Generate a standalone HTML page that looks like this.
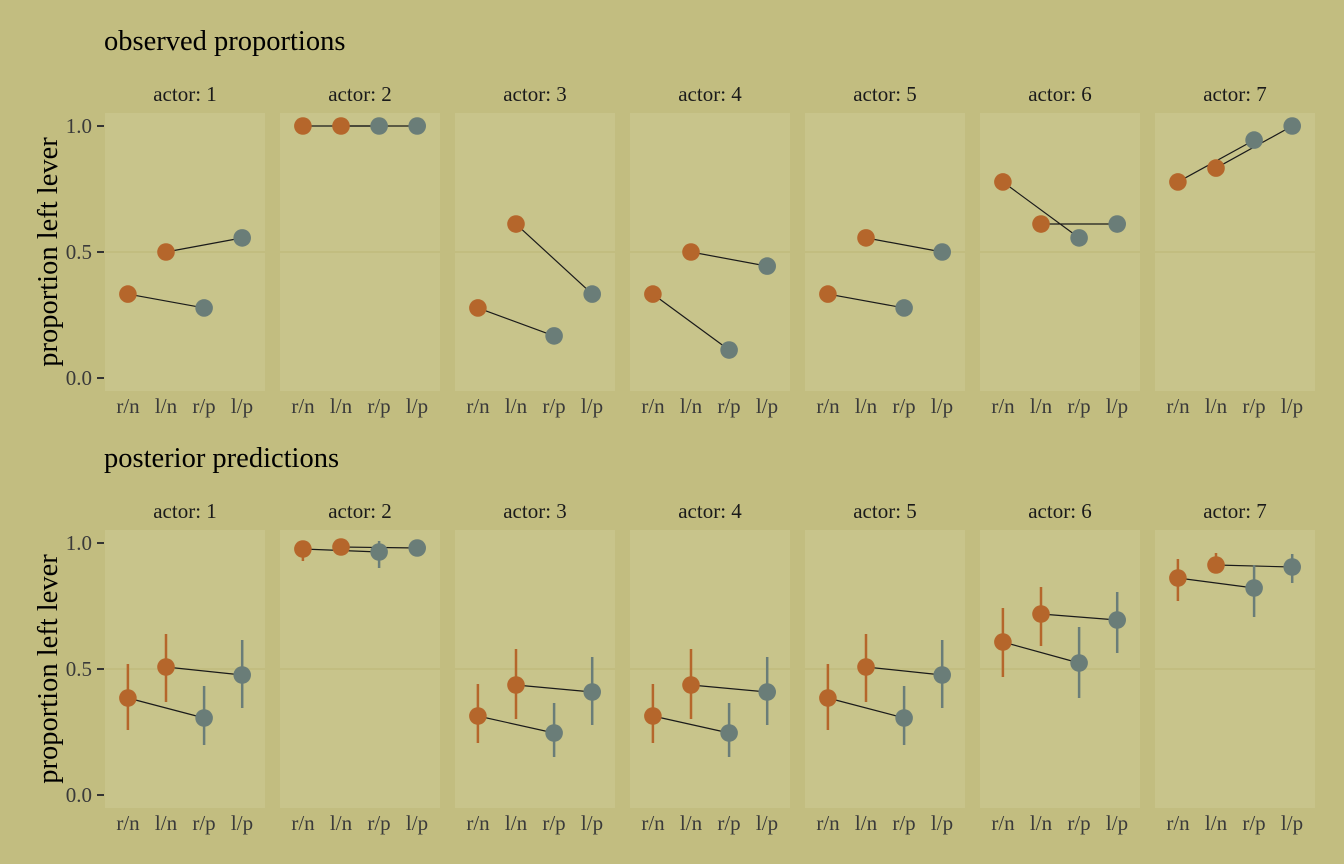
<!DOCTYPE html>
<html><head><meta charset="utf-8"><style>
body{margin:0;background:#C2BD80;}
svg{display:block;font-family:"Liberation Serif",serif;}
.ax{font-size:21px;fill:#3a3a3a;}
.st{font-size:21px;fill:#1a1a1a;text-anchor:middle;}
.tt{font-size:28.5px;fill:#000;}
</style></head><body>
<svg id="s" width="1344" height="864" viewBox="0 0 1344 864">
<rect width="1344" height="864" fill="#C2BD80"/>
<g id="g"></g>
<text class="tt" x="104" y="50">observed proportions</text>
<text class="tt" x="104" y="467">posterior predictions</text>
<text class="tt" transform="translate(57,252) rotate(-90)" text-anchor="middle">proportion left lever</text>
<text class="tt" transform="translate(57,669) rotate(-90)" text-anchor="middle">proportion left lever</text>
<g class="ax" text-anchor="end">
<text x="92" y="133">1.0</text><text x="92" y="259">0.5</text><text x="92" y="385">0.0</text>
<text x="92" y="550">1.0</text><text x="92" y="676">0.5</text><text x="92" y="802">0.0</text>
</g>
<g class="st">
<text x="185" y="101">actor: 1</text><text x="360" y="101">actor: 2</text><text x="535" y="101">actor: 3</text><text x="710" y="101">actor: 4</text><text x="885" y="101">actor: 5</text><text x="1060" y="101">actor: 6</text><text x="1235" y="101">actor: 7</text>
<text x="185" y="518">actor: 1</text><text x="360" y="518">actor: 2</text><text x="535" y="518">actor: 3</text><text x="710" y="518">actor: 4</text><text x="885" y="518">actor: 5</text><text x="1060" y="518">actor: 6</text><text x="1235" y="518">actor: 7</text>
</g>
<g class="ax" text-anchor="middle">
<text x="128" y="413">r/n</text><text x="166" y="413">l/n</text><text x="204" y="413">r/p</text><text x="242" y="413">l/p</text>
<text x="303" y="413">r/n</text><text x="341" y="413">l/n</text><text x="379" y="413">r/p</text><text x="417" y="413">l/p</text>
<text x="478" y="413">r/n</text><text x="516" y="413">l/n</text><text x="554" y="413">r/p</text><text x="592" y="413">l/p</text>
<text x="653" y="413">r/n</text><text x="691" y="413">l/n</text><text x="729" y="413">r/p</text><text x="767" y="413">l/p</text>
<text x="828" y="413">r/n</text><text x="866" y="413">l/n</text><text x="904" y="413">r/p</text><text x="942" y="413">l/p</text>
<text x="1003" y="413">r/n</text><text x="1041" y="413">l/n</text><text x="1079" y="413">r/p</text><text x="1117" y="413">l/p</text>
<text x="1178" y="413">r/n</text><text x="1216" y="413">l/n</text><text x="1254" y="413">r/p</text><text x="1292" y="413">l/p</text>
<text x="128" y="830">r/n</text><text x="166" y="830">l/n</text><text x="204" y="830">r/p</text><text x="242" y="830">l/p</text>
<text x="303" y="830">r/n</text><text x="341" y="830">l/n</text><text x="379" y="830">r/p</text><text x="417" y="830">l/p</text>
<text x="478" y="830">r/n</text><text x="516" y="830">l/n</text><text x="554" y="830">r/p</text><text x="592" y="830">l/p</text>
<text x="653" y="830">r/n</text><text x="691" y="830">l/n</text><text x="729" y="830">r/p</text><text x="767" y="830">l/p</text>
<text x="828" y="830">r/n</text><text x="866" y="830">l/n</text><text x="904" y="830">r/p</text><text x="942" y="830">l/p</text>
<text x="1003" y="830">r/n</text><text x="1041" y="830">l/n</text><text x="1079" y="830">r/p</text><text x="1117" y="830">l/p</text>
<text x="1178" y="830">r/n</text><text x="1216" y="830">l/n</text><text x="1254" y="830">r/p</text><text x="1292" y="830">l/p</text>
</g>
</svg>
<script>
(function(){
var NS="http://www.w3.org/2000/svg",g=document.getElementById("g");
function el(t,a){var e=document.createElementNS(NS,t);for(var k in a)e.setAttribute(k,a[k]);g.appendChild(e);return e;}
var OR="#B5662B",GR="#6A7D78";
var obs=[[.333,.5,.278,.556],[1,1,1,1],[.278,.611,.167,.333],[.333,.5,.111,.444],[.333,.556,.278,.5],[.778,.611,.556,.611],[.778,.833,.944,1]];
var bot=[[[698,664,730],[667,634,702],[718,686,745],[675,640,708]],
[[549,543,561],[547,541,555],[552,541,568],[548,542,556]],
[[716,684,743],[685,649,719],[733,703,757],[692,657,725]],
[[716,684,743],[685,649,719],[733,703,757],[692,657,725]],
[[698,664,730],[667,634,702],[718,686,745],[675,640,708]],
[[642,608,677],[614,587,646],[663,627,698],[620,592,653]],
[[578,559,601],[565,553,573],[588,565,617],[567,554,583]]];
[[113,126],[530,543]].forEach(function(r){
 var y0=r[0],y1=r[1];
 [0,126,252].forEach(function(d){el("line",{x1:97,x2:104,y1:y1+d,y2:y1+d,stroke:"#333","stroke-width":2});});
 for(var i=0;i<7;i++){
  var x=105+175*i;
  el("rect",{x:x,y:y0,width:160,height:278,fill:"#C8C48B"});
  el("line",{x1:x,x2:x+160,y1:y1+126,y2:y1+126,stroke:"#C2BD80","stroke-width":2});
 }
});
for(var i=0;i<7;i++){
 var bx=105+175*i,xs=[0,1,2,3].map(function(j){return bx+22.9+38.1*j;});
 var ys=obs[i].map(function(v){return 378-252*v;});
 el("line",{x1:xs[0],y1:ys[0],x2:xs[2],y2:ys[2],stroke:"#1a1a1a","stroke-width":1.2});
 el("line",{x1:xs[1],y1:ys[1],x2:xs[3],y2:ys[3],stroke:"#1a1a1a","stroke-width":1.2});
 for(var j=0;j<4;j++)el("circle",{cx:xs[j],cy:ys[j],r:8.8,fill:j<2?OR:GR});
 var b=bot[i];
 el("line",{x1:xs[0],y1:b[0][0],x2:xs[2],y2:b[2][0],stroke:"#1a1a1a","stroke-width":1.2});
 el("line",{x1:xs[1],y1:b[1][0],x2:xs[3],y2:b[3][0],stroke:"#1a1a1a","stroke-width":1.2});
 for(var j=0;j<4;j++){
  var c=j<2?OR:GR;
  el("line",{x1:xs[j],x2:xs[j],y1:b[j][1],y2:b[j][2],stroke:c,"stroke-width":2.5});
  el("circle",{cx:xs[j],cy:b[j][0],r:8.8,fill:c});
 }
}
})();
</script>
</body></html>
